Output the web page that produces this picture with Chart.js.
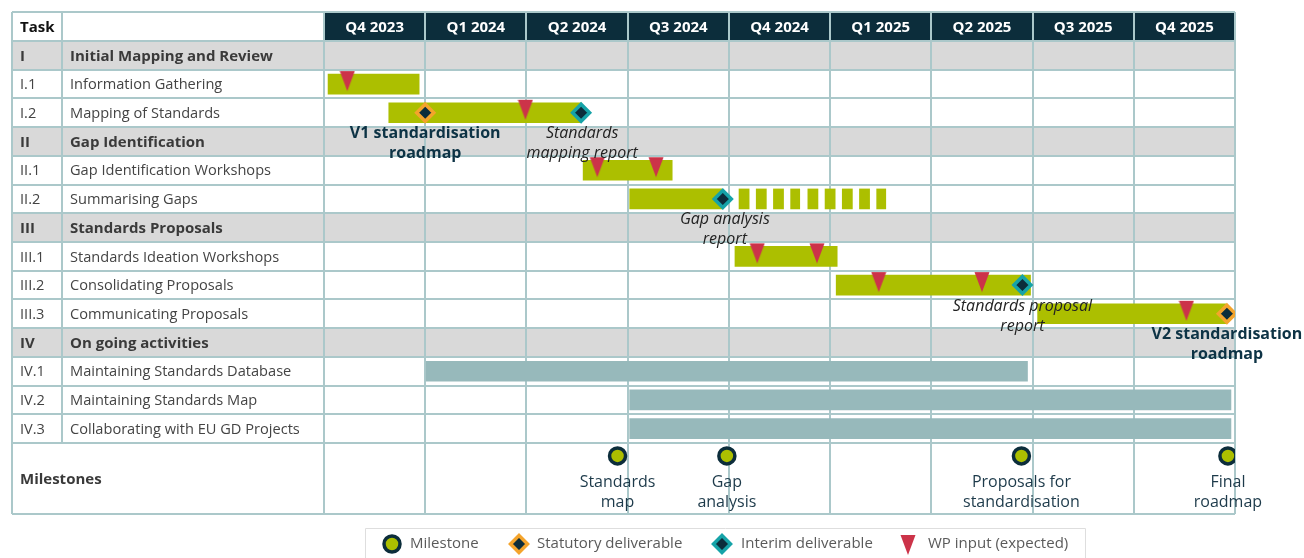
<!DOCTYPE html>
<html><head><meta charset="utf-8">
<script src="https://cdn.jsdelivr.net/npm/chart.js@4/dist/chart.umd.min.js"></script>
<style>html,body{margin:0;padding:0;background:#fff}#wrap{width:1304px;height:558px;position:relative}</style>
</head><body><div id="wrap"><canvas id="c" width="1304" height="558"></canvas></div>
<script>
// ---------- DATA ----------
const quarters = ['Q4 2023','Q1 2024','Q2 2024','Q3 2024','Q4 2024','Q1 2025','Q2 2025','Q3 2025','Q4 2025'];
const taskIds = ['I','I.1','I.2','II','II.1','II.2','III','III.1','III.2','III.3','IV','IV.1','IV.2','IV.3'];
const taskNames = ['Initial Mapping and Review','Information Gathering','Mapping of Standards','Gap Identification',
  'Gap Identification Workshops','Summarising Gaps','Standards Proposals','Standards Ideation Workshops',
  'Consolidating Proposals','Communicating Proposals','On going activities','Maintaining Standards Database',
  'Maintaining Standards Map','Collaborating with EU GD Projects'];
const sectionRows = [0, 3, 6, 10];

// work packages (lime bars), x in quarters from start of Q4 2023
const workRows  = [1, 2, 4, 5, 7, 8, 9];
const workStart = [0.04, 0.64, 2.56, 3.02, 4.06, 5.06, 7.05];
const workEnd   = [0.94, 2.54, 3.44, 3.93, 5.07, 6.98, 8.91];

// dashed continuation of "Summarising Gaps"
const dashRow = 5;
const dashSegments = [[4.10,4.20],[4.27,4.37],[4.44,4.54],[4.61,4.70],[4.78,4.88],[4.95,5.05],[5.12,5.22],[5.29,5.39],[5.46,5.55]];

// ongoing activities (grey-teal bars)
const ongoingRows  = [11, 12, 13];
const ongoingStart = [1.01, 3.02, 3.02];
const ongoingEnd   = [6.95, 8.96, 8.96];

// markers
const wpInputX    = [0.23, 1.99, 2.70, 3.28, 4.28, 4.87, 5.48, 6.50, 8.52];
const wpInputRow  = [1, 2, 4, 4, 7, 7, 8, 8, 9];
const statutoryX   = [1.00, 8.92];
const statutoryRow = [2, 9];
const interimX   = [2.54, 3.94, 6.90];
const interimRow = [2, 5, 8];

const milestoneX = [2.90, 3.98, 6.89, 8.93];
const milestoneLabels = [['Standards','map'],['Gap','analysis'],['Proposals for','standardisation'],['Final','roadmap']];
const milestoneRowValue = 13.95;

const deliverableLabels = [
  {text:['V1 standardisation','roadmap'], x:1.00, row:2, kind:'statutory'},
  {text:['Standards','mapping report'], x:2.55, row:2, kind:'interim'},
  {text:['Gap analysis','report'], x:3.96, row:5, kind:'interim'},
  {text:['Standards proposal','report'], x:6.90, row:8, kind:'interim'},
  {text:['V2 standardisation','roadmap'], x:8.92, row:9, kind:'statutory'}
];

const legendItems = ['Milestone','Statutory deliverable','Interim deliverable','WP input (expected)'];

// ---------- STYLE ----------
const FONT = "'Open Sans','Noto Sans',sans-serif";
const LIME = '#acbf00', TEAL_GREY = '#97b9bb', RED = '#cc3349', ORANGE = '#f4a42c', TEAL = '#16a3a8', DARK = '#0c2d3b';
const GRID = '#abc8ca', SECTION = '#d9d9d9';

function makeTri(h){
  const c = document.createElement('canvas'); c.width = 16; c.height = h;
  const g = c.getContext('2d'); g.fillStyle = RED;
  g.beginPath(); g.moveTo(0.5,1); g.lineTo(15.5,1); g.lineTo(8,21); g.closePath(); g.fill();
  return c;
}
const triImg = makeTri(28);

const tablePlugin = {
  id: 'table',
  beforeDatasetsDraw(chart){
    const {ctx, chartArea: ca, scales: {x, y}} = chart;
    const L = 12, C1 = 62, HT = 12;
    const right = ca.right, top = ca.top, bottom = ca.bottom;
    const rowTop = r => y.getPixelForValue(r - 0.5);
    const rowBot = r => y.getPixelForValue(r + 0.5);
    ctx.save();
    // section bands
    ctx.fillStyle = SECTION;
    sectionRows.forEach(r => ctx.fillRect(L, rowTop(r), right - L, rowBot(r) - rowTop(r)));
    // header
    ctx.fillStyle = DARK;
    ctx.fillRect(x.getPixelForValue(0), HT, x.getPixelForValue(9) - x.getPixelForValue(0), top - HT);
    // grid lines
    ctx.strokeStyle = GRID; ctx.lineWidth = 2;
    ctx.beginPath();
    for (let i = 0; i <= 9; i++) { const px = Math.round(x.getPixelForValue(i)); ctx.moveTo(px, HT); ctx.lineTo(px, bottom); }
    ctx.moveTo(L, HT); ctx.lineTo(L, bottom);
    ctx.moveTo(C1, HT); ctx.lineTo(C1, rowBot(taskIds.length - 1));
    ctx.moveTo(L, HT); ctx.lineTo(right, HT);
    for (let r = 0; r <= taskIds.length; r++) { const py = Math.round(rowTop(r)); ctx.moveTo(L, py); ctx.lineTo(right, py); }
    ctx.moveTo(L, bottom); ctx.lineTo(right, bottom);
    ctx.stroke();
    // header text
    ctx.textBaseline = 'middle';
    ctx.fillStyle = '#111'; ctx.font = 'bold 15px ' + FONT; ctx.textAlign = 'left';
    ctx.fillText('Task', 20, (HT + top) / 2 + 1);
    ctx.fillStyle = '#fff'; ctx.textAlign = 'center';
    quarters.forEach((q, i) => ctx.fillText(q, x.getPixelForValue(i + 0.5), (HT + top) / 2 + 1));
    // rows
    ctx.textAlign = 'left';
    taskIds.forEach((id, r) => {
      const isSec = sectionRows.includes(r);
      const cy = (rowTop(r) + rowBot(r)) / 2 + 1;
      ctx.font = isSec ? 'bold 15px ' + FONT : '14.6px ' + FONT;
      ctx.fillStyle = isSec ? '#3a3a3a' : '#444';
      ctx.fillText(id, 20, cy);
      ctx.fillText(taskNames[r], 70, cy);
    });
    ctx.font = 'bold 15px ' + FONT; ctx.fillStyle = '#3a3a3a';
    ctx.fillText('Milestones', 20, (rowBot(taskIds.length - 1) + bottom) / 2 + 1);
    ctx.restore();
  },
  afterDatasetsDraw(chart){
    const {ctx, scales: {x, y}} = chart;
    ctx.save();
    ctx.textAlign = 'center'; ctx.textBaseline = 'middle';
    deliverableLabels.forEach(d => {
      const cx = x.getPixelForValue(d.x), cy = y.getPixelForValue(d.row);
      if (d.kind === 'statutory') { ctx.font = 'bold 16px ' + FONT; ctx.fillStyle = '#0d3345'; }
      else { ctx.font = 'italic 16px ' + FONT; ctx.fillStyle = '#222'; }
      ctx.fillText(d.text[0], cx, cy + 21);
      ctx.fillText(d.text[1], cx, cy + 41);
    });
    ctx.font = '16px ' + FONT; ctx.fillStyle = '#1d3a4a';
    milestoneX.forEach((mx, i) => {
      const cx = x.getPixelForValue(mx), cy = y.getPixelForValue(milestoneRowValue);
      ctx.fillText(milestoneLabels[i][0], cx, cy + 27);
      ctx.fillText(milestoneLabels[i][1], cx, cy + 47);
    });
    ctx.restore();
  },
  afterDraw(chart){
    const {ctx} = chart;
    ctx.save();
    // legend box
    ctx.strokeStyle = '#dedede'; ctx.lineWidth = 1;
    ctx.beginPath(); ctx.moveTo(365.5, 560); ctx.lineTo(365.5, 528.5); ctx.lineTo(1085.5, 528.5); ctx.lineTo(1085.5, 560); ctx.stroke();
    const ly = 544;
    // milestone symbol
    ctx.beginPath(); ctx.arc(392, ly, 8, 0, Math.PI * 2); ctx.fillStyle = LIME; ctx.fill();
    ctx.lineWidth = 3.5; ctx.strokeStyle = DARK; ctx.stroke();
    // diamonds
    const diamond = (cx, col) => {
      ctx.beginPath(); ctx.moveTo(cx - 8.5, ly); ctx.lineTo(cx, ly - 8.5); ctx.lineTo(cx + 8.5, ly); ctx.lineTo(cx, ly + 8.5); ctx.closePath();
      ctx.fillStyle = DARK; ctx.fill(); ctx.lineWidth = 3.5; ctx.strokeStyle = col; ctx.stroke();
    };
    diamond(519, ORANGE); diamond(722, TEAL);
    ctx.drawImage(triImg, 900, ly - 14 + 4);
    ctx.font = '15px ' + FONT; ctx.fillStyle = '#5a5a5a'; ctx.textAlign = 'left'; ctx.textBaseline = 'middle';
    ctx.fillText(legendItems[0], 410, ly);
    ctx.fillText(legendItems[1], 537, ly);
    ctx.fillText(legendItems[2], 741, ly);
    ctx.fillText(legendItems[3], 928, ly);
    ctx.restore();
  }
};

const datasets = [
  { type:'scatter', label:'WP input', order:1,
    data: wpInputX.map((v,i)=>({x:v, y:wpInputRow[i]})),
    pointStyle: triImg, pointRadius: 8 },
  { type:'scatter', label:'Statutory deliverable', order:1,
    data: statutoryX.map((v,i)=>({x:v, y:statutoryRow[i]})),
    pointStyle:'rectRot', pointRadius:8.5, pointBorderWidth:3.5, pointBackgroundColor:DARK, pointBorderColor:ORANGE },
  { type:'scatter', label:'Interim deliverable', order:1,
    data: interimX.map((v,i)=>({x:v, y:interimRow[i]})),
    pointStyle:'rectRot', pointRadius:8.5, pointBorderWidth:3.5, pointBackgroundColor:DARK, pointBorderColor:TEAL },
  { type:'scatter', label:'Milestone', order:1,
    data: milestoneX.map(v=>({x:v, y:milestoneRowValue})),
    pointStyle:'circle', pointRadius:8, pointBorderWidth:3.5, pointBackgroundColor:LIME, pointBorderColor:DARK },
  { type:'bar', label:'Work', order:10, indexAxis:'y', grouped:false, barThickness:20,
    data: workRows.map((r,i)=>({y:r, x:[workStart[i], workEnd[i]]})), backgroundColor: LIME },
  { type:'bar', label:'Dashed', order:10, indexAxis:'y', grouped:false, barThickness:20,
    data: dashSegments.map(s=>({y:dashRow, x:s})), backgroundColor: LIME },
  { type:'bar', label:'Ongoing', order:10, indexAxis:'y', grouped:false, barThickness:20,
    data: ongoingRows.map((r,i)=>({y:r, x:[ongoingStart[i], ongoingEnd[i]]})), backgroundColor: TEAL_GREY }
];

new Chart(document.getElementById('c'), {
  type: 'bar',
  data: { datasets },
  options: {
    responsive: false, animation: false, devicePixelRatio: 1,
    layout: { padding: { left: 324, top: 41, right: 69, bottom: 44 } },
    scales: {
      x: { type:'linear', min:0, max:9, display:false, offset:false },
      y: { type:'linear', min:-0.5, max:13.5 + 71/28.714, reverse:true, display:false, offset:false }
    },
    plugins: { legend:{display:false}, tooltip:{enabled:false} },
    events: []
  },
  plugins: [tablePlugin]
});
</script></body></html>
